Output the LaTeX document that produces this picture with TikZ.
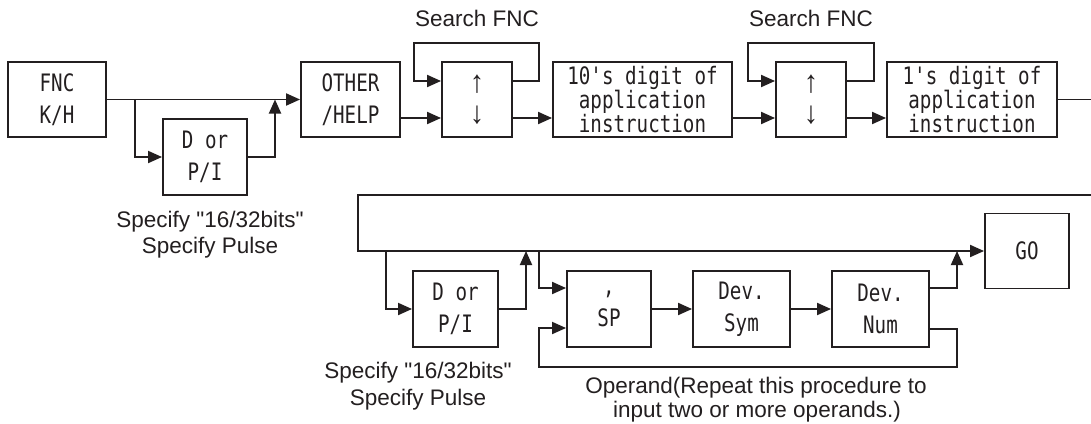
\documentclass[tikz,border=0pt]{standalone}
\usepackage{fontspec}
\usepackage{graphicx}
\setmainfont{Liberation Sans}[Ligatures=TeXOff]
\newfontfamily\boxfont[FakeStretch=0.80]{DejaVu Sans Mono}
\newfontfamily\arrfont{Liberation Sans}
\usetikzlibrary{arrows.meta}
\definecolor{ink}{HTML}{231F20}
\newcommand{\tallglyph}[1]{\scalebox{1.2}[1.3]{#1}}
\tikzset{
  blk/.style={draw=ink, line width=1.9pt, minimum height=75pt, inner sep=0pt,
    font=\boxfont\fontsize{24}{32}\selectfont, text=ink, align=center},
  tightblk/.style={blk, font=\boxfont\fontsize{24}{23.5}\selectfont},
  arrblk/.style={blk, font=\arrfont\fontsize{24}{31}\selectfont},
  conn/.style={draw=ink, line width=1.9pt},
  arr/.style={conn, -{Triangle[length=14pt,width=12pt]}},
  lbl/.style={font=\fontsize{22.5}{26}\selectfont, text=ink, inner sep=0pt, anchor=base}
}
\begin{document}
\begin{tikzpicture}[x=1pt,y=-1pt]
\fill[white] (0,0) rectangle (1091,423);
\useasboundingbox (0,0) rectangle (1091,423);

% top row
\node[blk, minimum width=98pt] (fnc) at (57,99.5) {FNC\\K/H};
\node[blk, minimum width=84pt, minimum height=76pt] (d1) at (205,157) {D or\\P/I};
\node[blk, minimum width=99pt] (other) at (350.5,99.5) {OTHER\\/HELP};
\node[arrblk, minimum width=70pt] (ud1) at (477,99.5) {\tallglyph{↑}\\\tallglyph{↓}};
\node[tightblk, minimum width=179pt] (ten) at (642.5,99.5) {10's digit of\\application\\instruction};
\node[arrblk, minimum width=70pt] (ud2) at (811,99.5) {\tallglyph{↑}\\\tallglyph{↓}};
\node[tightblk, minimum width=170pt] (one) at (972,99.5) {1's digit of\\application\\instruction};

% bottom row
\node[blk, minimum width=85pt, minimum height=76pt] (d2) at (455.5,309) {D or\\P/I};
\node[blk, minimum width=84pt, minimum height=76pt] (sp) at (609,309) {,\\SP};
\node[blk, minimum width=97pt, minimum height=76pt] (sym) at (741.5,309) {Dev.\\Sym};
\node[blk, minimum width=97pt, minimum height=76pt] (num) at (880.5,309) {Dev.\\Num};
\node[blk, minimum width=84pt] (go) at (1027,251) {GO};

% labels
\node[lbl] (sf1) at (477,27) {Search FNC};
\node[lbl] (sf2) at (811,27) {Search FNC};
\node[lbl] (spa1) at (210,227) {Specify "16/32bits"};
\node[lbl] (spb1) at (210,253) {Specify Pulse};
\node[lbl] (spa2) at (418,378) {Specify "16/32bits"};
\node[lbl] (spb2) at (418,405) {Specify Pulse};
\node[lbl] (opa) at (756,393) {Operand(Repeat this procedure to};
\node[lbl] (opb) at (757,417.5) {input two or more operands.)};

% top connectors
\coordinate (b1) at (135,99.5);
\coordinate (j1) at (275,99.5);
\draw[arr] (fnc.east) -- (other.west);
\draw[arr] (b1) |- (d1.west);
\draw[arr] (d1.east) -| (j1);
\draw[arr] (other.east |- 0,118) -- (ud1.west |- 0,118);
\draw[arr] (ud1.east |- 0,81) -- (539,81) -- (539,43) -- (414,43) -- (414,81) -- (ud1.west |- 0,81);
\draw[arr] (ud1.east |- 0,118) -- (ten.west |- 0,118);
\draw[arr] (ten.east |- 0,118) -- (ud2.west |- 0,118);
\draw[arr] (ud2.east |- 0,81) -- (874,81) -- (874,43) -- (748,43) -- (748,81) -- (ud2.west |- 0,81);
\draw[arr] (ud2.east |- 0,118) -- (one.west |- 0,118);
\coordinate (outR) at (1091,99.5);
\draw[conn] (one.east) -- (outR);

% bottom connectors
\coordinate (inR) at (1091,195);
\coordinate (b2) at (386,251);
\coordinate (j2) at (526,251);
\coordinate (b3) at (539,251);
\coordinate (j3) at (957,251);
\draw[arr] (inR) -- (358,195) -- (358,251) -- (go.west);
\draw[arr] (b2) |- (d2.west);
\draw[arr] (d2.east) -| (j2);
\draw[arr] (b3) |- (sp.west |- 0,288);
\draw[arr] (sp) -- (sym);
\draw[arr] (sym) -- (num);
\draw[arr] (num.east |- 0,288) -| (j3);
\draw[arr] (num.east |- 0,329) -- (957,329) -- (957,367) -- (539,367) -- (539,328) -- (sp.west |- 0,328);
\end{tikzpicture}
\end{document}
